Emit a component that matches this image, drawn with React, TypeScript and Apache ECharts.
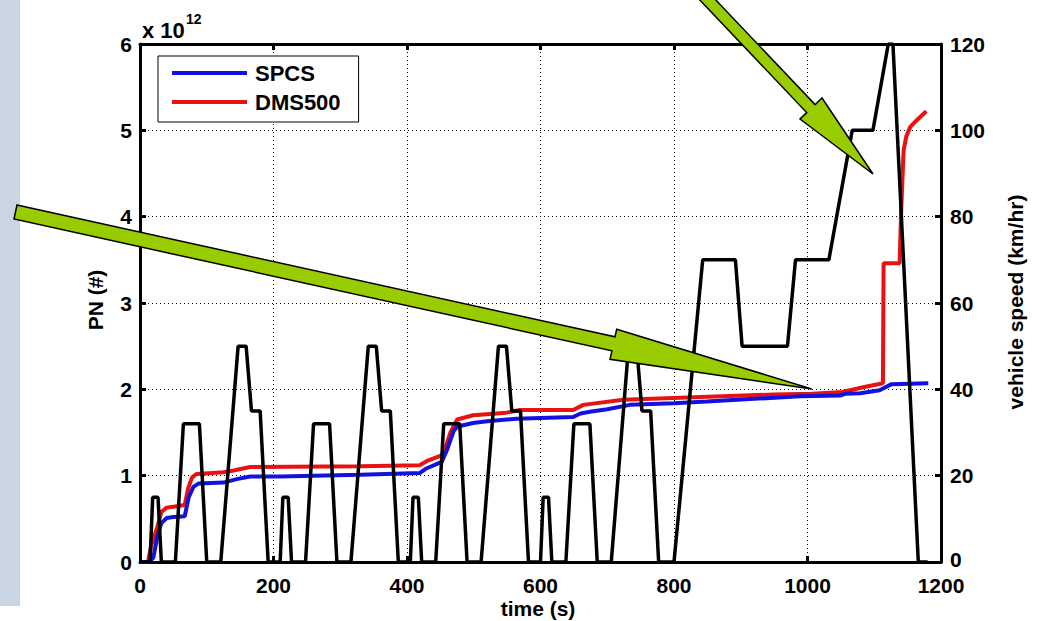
import React, { useEffect, useRef } from "react";
import * as echarts from "echarts";

// vehicle speed trace (km/hr) vs time (s)
const speedTime = [0, 15, 19, 27, 32, 53, 65, 89, 100, 121, 147, 159, 167, 180, 192,
  210, 214, 222, 227, 248, 260, 284, 295, 316, 342, 354, 362, 375, 387,
  405, 409, 417, 422, 443, 455, 479, 490, 511, 537, 549, 557, 570, 582,
  600, 604, 612, 617, 638, 650, 674, 685, 706, 732, 744, 752, 765, 777,
  800, 843, 892, 902, 970, 982, 1032, 1067, 1098, 1121, 1128, 1166, 1180];
const speedKmh = [0, 0, 15, 15, 0, 0, 32, 32, 0, 0, 50, 50, 35, 35, 0,
  0, 15, 15, 0, 0, 32, 32, 0, 0, 50, 50, 35, 35, 0,
  0, 15, 15, 0, 0, 32, 32, 0, 0, 50, 50, 35, 35, 0,
  0, 15, 15, 0, 0, 32, 32, 0, 0, 50, 50, 35, 35, 0,
  0, 70, 70, 50, 50, 70, 70, 100, 100, 120, 120, 0, 0];

// cumulative PN (x 10^12)
const spcsTime = [0, 14, 20, 26, 32, 40, 50, 67, 73, 80, 88, 125, 145, 165, 210, 330, 419, 428, 452, 460,
  470, 476, 499, 520, 564, 649, 660, 674, 700, 734, 800, 849, 920, 989, 1050, 1057, 1079, 1108, 1126, 1181];
const spcsPN = [0, 0, 0.05, 0.3, 0.45, 0.51, 0.52, 0.53, 0.75, 0.87, 0.91, 0.92, 0.96, 0.99, 0.99, 1.01, 1.03, 1.08, 1.16, 1.3,
  1.52, 1.57, 1.61, 1.63, 1.66, 1.68, 1.72, 1.74, 1.77, 1.82, 1.84, 1.86, 1.89, 1.92, 1.93, 1.95, 1.955, 1.99, 2.06, 2.07];

const dmsTime = [0, 12, 17, 25, 32, 40, 50, 67, 72, 78, 85, 125, 140, 165, 330, 419, 430, 454, 465, 475,
  499, 549, 569, 649, 664, 724, 799, 949, 1007, 1052, 1087, 1113, 1114, 1138, 1140, 1144, 1148, 1154, 1164, 1178];
const dmsPN = [0, 0, 0.2, 0.38, 0.58, 0.63, 0.64, 0.66, 0.85, 0.98, 1.02, 1.04, 1.06, 1.1, 1.11, 1.12, 1.17, 1.24, 1.5, 1.65,
  1.7, 1.73, 1.76, 1.76, 1.82, 1.88, 1.9, 1.94, 1.95, 1.97, 2.03, 2.07, 3.46, 3.46, 4.0, 4.77, 4.93, 5.04, 5.12, 5.22];

const seriesNames = ["SPCS", "DMS500"];
const xAxisName = "time (s)";
const leftAxisName = "PN (#)";
const rightAxisName = "vehicle speed (km/hr)";

const FONT = "'Liberation Sans', Arial, sans-serif";

const zip = (a: number[], b: number[]) => a.map((t, i) => [t, b[i]]);

export default function App() {
  const ref = useRef<HTMLDivElement>(null);
  useEffect(() => {
    if (!ref.current) return;
    const chart = echarts.init(ref.current, null, { renderer: "svg" });
    const axisLine = { show: true, onZero: false, lineStyle: { color: "#000", width: 3 } };
    const axisTick = { show: true, inside: true, length: 6, lineStyle: { color: "#000", width: 3 } };
    const label = {
      color: "#000", fontSize: 21, fontWeight: "bold" as const, fontFamily: FONT,
      formatter: (v: number) => String(v),
    };
    const split = { show: true, lineStyle: { color: "#000", width: 1, type: [1, 3] as any } };
    const arrowStyle = { fill: "#99cc00", stroke: "#000", lineWidth: 1.5 };

    chart.setOption({
      animation: false,
      backgroundColor: "#fff",
      grid: { left: 140, right: 99, top: 44, bottom: 59, show: false },
      legend: {
        data: seriesNames,
        orient: "vertical",
        left: 158,
        top: 56,
        padding: [6, 18, 9, 14],
        itemGap: 7,
        itemWidth: 75,
        itemHeight: 4,
        icon: "rect",
        backgroundColor: "#fff",
        borderColor: "#000",
        borderWidth: 1,
        textStyle: { color: "#000", fontSize: 22, fontWeight: "bold", fontFamily: FONT, padding: [0, 0, 0, 3] },
        z: 20,
      },
      xAxis: [
        {
          type: "value", position: "bottom", min: 0, max: 1200, interval: 200,
          axisLine, axisTick, axisLabel: { ...label, margin: 13 }, splitLine: split,
        },
        {
          type: "value", position: "top", min: 0, max: 1200, interval: 200,
          axisLine, axisTick, axisLabel: { show: false }, splitLine: { show: false },
        },
      ],
      yAxis: [
        {
          type: "value", position: "left", min: 0, max: 6, interval: 1,
          axisLine, axisTick, axisLabel: { ...label, margin: 8 }, splitLine: split,
        },
        {
          type: "value", position: "right", min: 0, max: 120, interval: 20,
          axisLine, axisTick,
          axisLabel: {
            ...label, margin: 9,
            formatter: (v: number) => (v === 0 ? "{z|0}" : String(v)),
            rich: { z: { color: "#000", fontSize: 21, fontWeight: "bold", fontFamily: FONT, padding: [0, 0, 5, 0] } },
          },
          splitLine: { show: false },
        },
      ],
      series: [
        {
          name: "DMS500", type: "line", xAxisIndex: 0, yAxisIndex: 0, data: zip(dmsTime, dmsPN),
          symbol: "none", lineStyle: { color: "#e81212", width: 4 }, itemStyle: { color: "#e81212" },
        },
        {
          name: "SPCS", type: "line", xAxisIndex: 0, yAxisIndex: 0, data: zip(spcsTime, spcsPN),
          symbol: "none", lineStyle: { color: "#1212e0", width: 4 }, itemStyle: { color: "#1212e0" },
        },
        {
          name: "speed", type: "line", xAxisIndex: 0, yAxisIndex: 1, data: zip(speedTime, speedKmh),
          symbol: "none", lineStyle: { color: "#000", width: 3.5 }, itemStyle: { color: "#000" },
        },
      ],
      graphic: [
        { type: "rect", shape: { x: 0, y: 0, width: 20, height: 606 }, style: { fill: "#c9d5e3" }, z: 1 },
        {
          type: "text", x: 142, y: 30,
          style: { text: "x 10", fill: "#000", font: `bold 22px ${FONT}`, textAlign: "left", textVerticalAlign: "middle" },
        },
        {
          type: "text", x: 186, y: 19,
          style: { text: "12", fill: "#000", font: `bold 14px ${FONT}`, textAlign: "left", textVerticalAlign: "middle" },
        },
        {
          type: "text", x: 95, y: 300, rotation: Math.PI / 2,
          style: { text: leftAxisName, fill: "#000", font: `bold 21px ${FONT}`, textAlign: "center", textVerticalAlign: "middle" },
        },
        {
          type: "text", x: 1015, y: 302, rotation: Math.PI / 2,
          style: { text: rightAxisName, fill: "#000", font: `bold 21px ${FONT}`, textAlign: "center", textVerticalAlign: "middle" },
        },
        {
          type: "text", x: 538, y: 608,
          style: { text: xAxisName, fill: "#000", font: `bold 21px ${FONT}`, textAlign: "center", textVerticalAlign: "middle" },
        },
        {
          type: "polygon", z: 50,
          shape: { points: [[696, -4], [806.7, 112.6], [800, 119], [873, 174], [822, 98], [815.1, 104.6], [712, -4]] },
          style: arrowStyle,
        },
        {
          type: "polygon", z: 50,
          shape: { points: [[17, 205], [615, 336.8], [616.7, 329.3], [811.7, 389], [610, 359.3], [611.9, 350.8], [14, 219]] },
          style: arrowStyle,
        },
      ],
    });
    return () => chart.dispose();
  }, []);
  return <div ref={ref} style={{ position: "absolute", left: 0, top: 0, width: 1040, height: 621 }} />;
}
